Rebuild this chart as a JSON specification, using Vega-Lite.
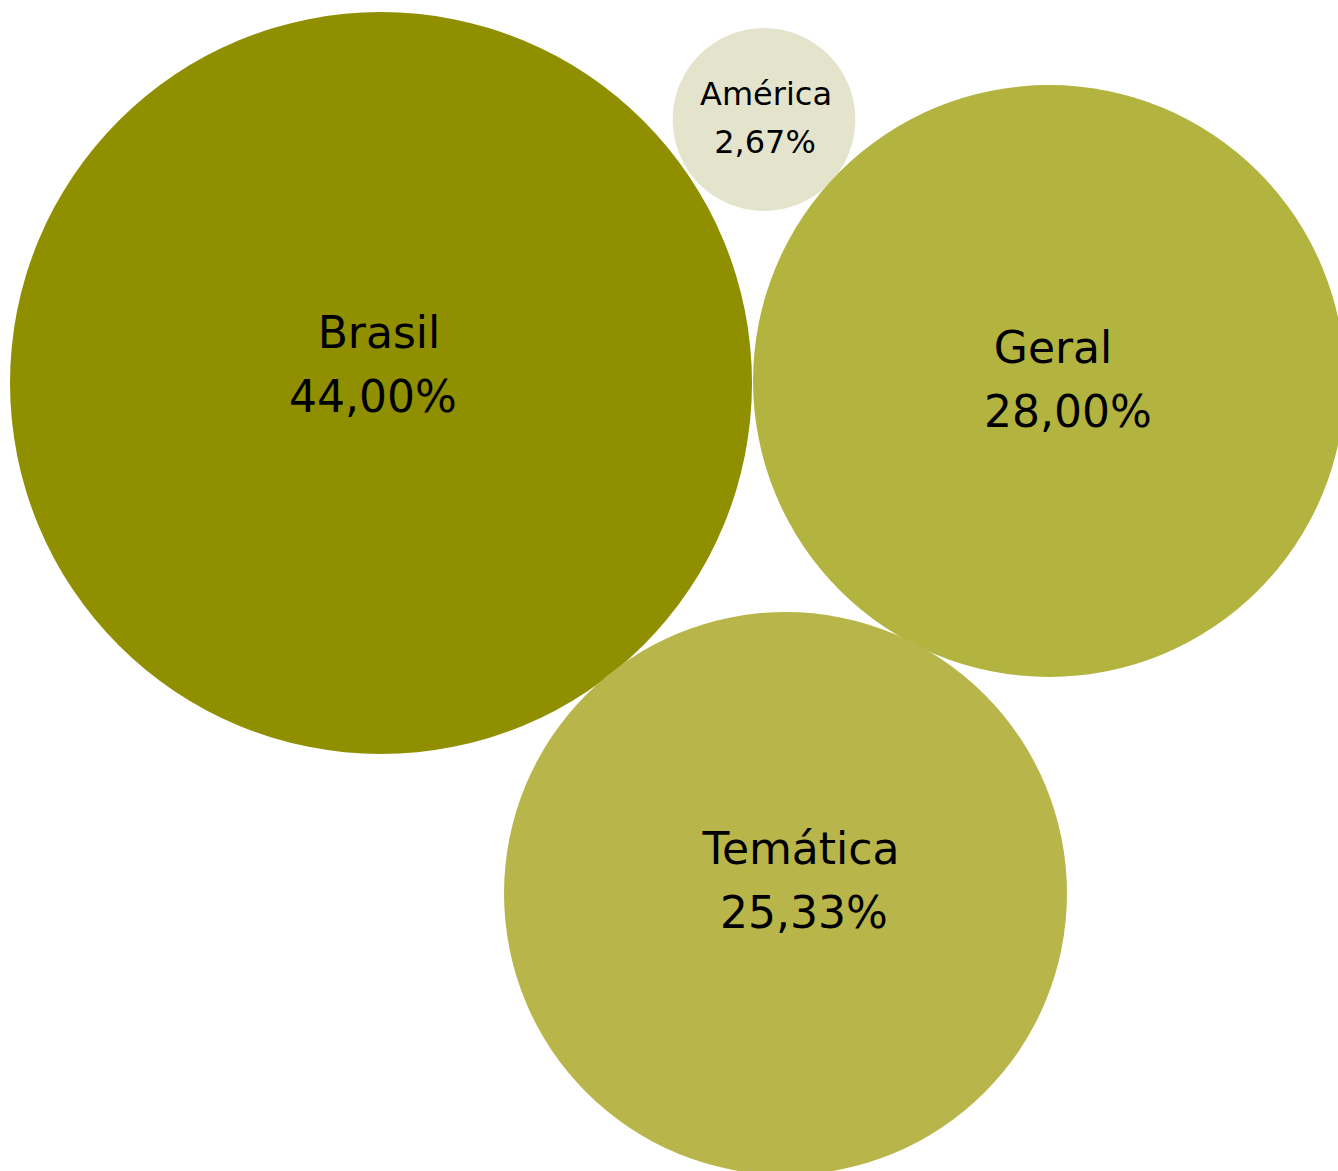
{
  "$schema": "https://vega.github.io/schema/vega-lite/v6.json",
  "width": 1338,
  "height": 1171,
  "autosize": {"type": "none"},
  "padding": 0,
  "background": "white",
  "config": {"view": {"stroke": null}},
  "datasets": {
    "bubbles": [
      {"name": "Brasil", "pct": 44.00, "x": 381, "y": 383},
      {"name": "América", "pct": 2.67, "x": 764, "y": 119.5},
      {"name": "Geral", "pct": 28.00, "x": 1049, "y": 381},
      {"name": "Temática", "pct": 25.33, "x": 785.5, "y": 893.5}
    ],
    "labels": [
      {"name": "Brasil", "text": "Brasil", "x": 379, "y": 348},
      {"name": "Brasil", "text": "44,00%", "x": 373, "y": 412},
      {"name": "América", "text": "América", "x": 766, "y": 105},
      {"name": "América", "text": "2,67%", "x": 765, "y": 153},
      {"name": "Geral", "text": "Geral", "x": 1053, "y": 363},
      {"name": "Geral", "text": "28,00%", "x": 1068, "y": 427},
      {"name": "Temática", "text": "Temática", "x": 801, "y": 864},
      {"name": "Temática", "text": "25,33%", "x": 804, "y": 928}
    ]
  },
  "layer": [
    {
      "data": {"name": "bubbles"},
      "mark": {"type": "circle", "opacity": 1},
      "encoding": {
        "x": {"field": "x", "type": "quantitative", "scale": {"domain": [0, 1338]}, "axis": null},
        "y": {"field": "y", "type": "quantitative", "scale": {"domain": [0, 1171], "reverse": true}, "axis": null},
        "size": {"field": "pct", "type": "quantitative", "scale": {"type": "linear", "zero": true, "domain": [0, 44], "range": [0, 550564]}, "legend": null},
        "color": {
          "field": "name", "type": "nominal",
          "scale": {"domain": ["Brasil", "América", "Geral", "Temática"], "range": ["#8f8f00", "#e4e4cd", "#b3b340", "#b8b64a"]},
          "legend": null
        }
      }
    },
    {
      "data": {"name": "labels"},
      "transform": [{"filter": "datum.name !== 'América'"}],
      "mark": {"type": "text", "font": "DejaVu Sans", "fontSize": 44, "baseline": "alphabetic", "align": "center", "color": "black"},
      "encoding": {
        "x": {"field": "x", "type": "quantitative", "scale": {"domain": [0, 1338]}, "axis": null},
        "y": {"field": "y", "type": "quantitative", "scale": {"domain": [0, 1171], "reverse": true}, "axis": null},
        "text": {"field": "text"}
      }
    },
    {
      "data": {"name": "labels"},
      "transform": [{"filter": "datum.name === 'América'"}],
      "mark": {"type": "text", "font": "DejaVu Sans", "fontSize": 32, "baseline": "alphabetic", "align": "center", "color": "black"},
      "encoding": {
        "x": {"field": "x", "type": "quantitative", "scale": {"domain": [0, 1338]}, "axis": null},
        "y": {"field": "y", "type": "quantitative", "scale": {"domain": [0, 1171], "reverse": true}, "axis": null},
        "text": {"field": "text"}
      }
    }
  ]
}
